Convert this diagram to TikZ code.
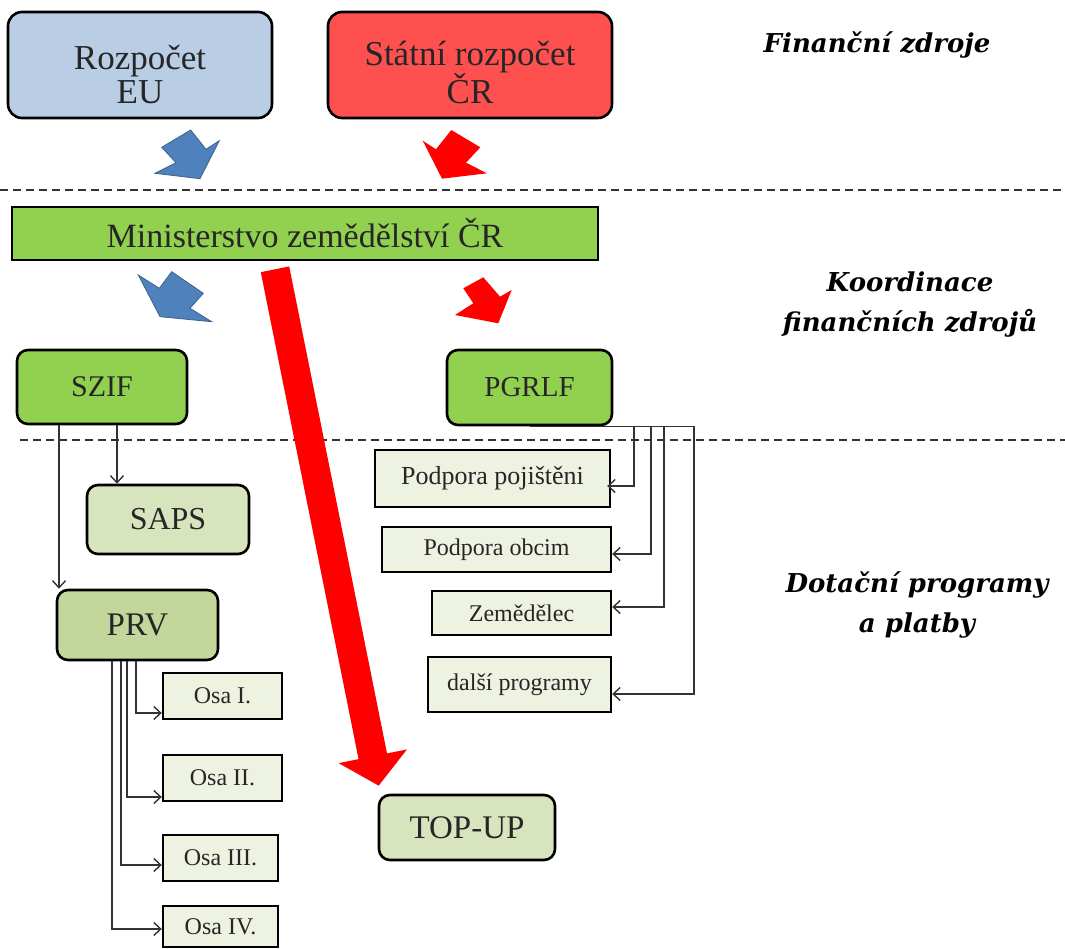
\documentclass[tikz,border=0pt]{standalone}
\usepackage{fontspec}
\setmainfont{Liberation Serif}
\newfontfamily\labfont{DejaVu Serif}
\usetikzlibrary{arrows.meta,calc,positioning}
\definecolor{eublue}{HTML}{B9CDE5}
\definecolor{crred}{HTML}{FF5050}
\definecolor{arrblue}{HTML}{4F81BD}
\definecolor{arrred}{HTML}{FF0000}
\definecolor{mzegreen}{HTML}{92D050}
\definecolor{olive}{HTML}{D7E4BD}
\definecolor{olivedark}{HTML}{C3D69B}
\definecolor{olivelight}{HTML}{EEF2E1}

\begin{document}
\begin{tikzpicture}[x=1pt,y=-1pt,
    box/.style={draw=black,line width=2.6pt,align=center,inner sep=0pt,text=black!85},
    bigbox/.style={box,rounded corners=14pt,text height=78pt,text depth=0pt,font=\fontsize{35}{34}\selectfont},
    midbox/.style={box,rounded corners=11pt,font=\fontsize{32}{32}\selectfont},
    smallbox/.style={box,line width=2.4pt,fill=olivelight,font=\fontsize{24}{24}\selectfont},
    sidelabel/.style={align=center,font=\labfont\bfseries\itshape\fontsize{26}{40}\selectfont},
    conn/.style={draw=black!80,line width=1.5pt,-{Straight Barb[length=7pt,width=13pt,line width=1.4pt]}},
    sepline/.style={draw=black!80,line width=1.3pt,dash pattern=on 8pt off 5pt}]
  \useasboundingbox (0,0) rectangle (1065,949);
  % sources
  \node[bigbox,fill=eublue,minimum width=264pt,minimum height=106pt] (eu) at (140,65) {Rozpočet\\EU};
  \node[bigbox,fill=crred,minimum width=284pt,minimum height=106pt] (cr) at (470,65) {Státní rozpočet\\ČR};
  % coordination
  \node[box,fill=mzegreen,minimum width=586pt,minimum height=53pt,font=\fontsize{34}{34}\selectfont] (mze) at (305,233.5) {Ministerstvo zemědělství ČR};
  \node[midbox,fill=mzegreen,minimum width=170pt,minimum height=74pt,font=\fontsize{30}{30}\selectfont] (szif) at (102,387) {SZIF};
  \node[midbox,fill=mzegreen,minimum width=165pt,minimum height=75pt,font=\fontsize{29}{29}\selectfont] (pgrlf) at (529.5,387.5) {PGRLF};
  % programmes
  \node[midbox,fill=olive,minimum width=162pt,minimum height=69pt] (saps) at (168,519.5) {SAPS};
  \node[midbox,fill=olivedark,minimum width=161pt,minimum height=70pt,font=\fontsize{33}{33}\selectfont] (prv) at (137.5,625) {PRV};
  \node[midbox,fill=olive,minimum width=176pt,minimum height=65pt,font=\fontsize{33}{33}\selectfont] (topup) at (467,827.5) {TOP-UP};
  \node[smallbox,minimum width=119pt,minimum height=46pt] (osa1) at (222.5,696) {Osa I.};
  \node[smallbox,minimum width=119pt,minimum height=46pt] (osa2) at (222.5,778) {Osa II.};
  \node[smallbox,minimum width=115pt,minimum height=46pt] (osa3) at (220.5,858) {Osa III.};
  \node[smallbox,minimum width=115pt,minimum height=41pt] (osa4) at (220.5,926.5) {Osa IV.};
  \node[smallbox,minimum width=235pt,minimum height=57pt,font=\fontsize{26}{26}\selectfont] (pp) at (492.5,478.5) {Podpora pojištěni};
  \node[smallbox,minimum width=229pt,minimum height=45pt] (po) at (496.5,549.5) {Podpora obcim};
  \node[smallbox,minimum width=179pt,minimum height=44pt] (zem) at (521.5,613) {Zemědělec};
  \node[smallbox,minimum width=183pt,minimum height=55pt] (dp) at (519.5,684.5) {další programy};
  % side labels
  \node[sidelabel] (lzdroje) at (877,45) {Finanční zdroje};
  \node[sidelabel] (lkoord) at (910,305) {Koordinace\\finančních zdrojů};
  \node[sidelabel] (ldotace) at (917,605) {Dotační programy\\a platby};
  % dashed
  \draw[sepline] (0,190) -- (1065,190);
  \draw[sepline] (20,440) -- (1065,440);
  % block arrows
  \filldraw[fill=arrblue,draw=arrblue!75!black,line width=0.8pt] (190.7,130) -- (161.7,147.3) -- (176,162.7) -- (155,173.3) -- (200,178.7) -- (219.3,140.7) -- (206,149.3) -- cycle;
  \fill[arrred] (451.3,130) -- (480.3,147.3) -- (466,162.7) -- (487,173.3) -- (442,178.7) -- (422.7,140.7) -- (436,149.3) -- cycle;
  \filldraw[fill=arrblue,draw=arrblue!75!black,line width=0.8pt] (138.3,275) -- (159.3,288.3) -- (171.7,271.7) -- (203.3,293.3) -- (190,308.3) -- (211.7,321.7) -- (160,316.7) -- cycle;
  \fill[arrred] (483.3,277.3) -- (463.3,288.3) -- (473.3,303.3) -- (455,315) -- (498.3,323.3) -- (511.7,290) -- (500,296.7) -- cycle;
  % top-up
  \draw[arrred,line width=29pt,-{Triangle[length=30pt,width=68pt]}] ([xshift=-30pt,yshift=-8pt]mze.south) -- ([xshift=1pt,yshift=8pt]topup.north west);
  % SZIF
  \draw[conn] ([xshift=-43pt]szif.south) -- ([xshift=-43pt]szif.south |- prv.north);
  \draw[conn] ([xshift=15pt]szif.south) -- ([xshift=15pt]szif.south |- saps.north);
  % PRV
  \draw[conn] ([xshift=-1.5pt]prv.south) |- ([yshift=-17pt]osa1.west);
  \draw[conn] ([xshift=-10.5pt]prv.south) |- ([yshift=-19pt]osa2.west);
  \draw[conn] ([xshift=-16.5pt]prv.south) |- ([yshift=-7pt]osa3.west);
  \draw[conn] ([xshift=-25.5pt]prv.south) |- ([yshift=-2.5pt]osa4.west);
  % PGRLF
  \draw[conn] (pgrlf.south) -| ([xshift=23pt,yshift=-7.5pt]pp.east) -- ([xshift=-4pt,yshift=-7.5pt]pp.east);
  \draw[conn] (pgrlf.south) -| ([xshift=39pt,yshift=-4.5pt]po.east) -- ([yshift=-4.5pt]po.east);
  \draw[conn] (pgrlf.south) -| ([xshift=52pt,yshift=6pt]zem.east) -- ([yshift=6pt]zem.east);
  \draw[conn] (pgrlf.south) -| ([xshift=82pt,yshift=-9.5pt]dp.east) -- ([yshift=-9.5pt]dp.east);
\end{tikzpicture}
\end{document}
